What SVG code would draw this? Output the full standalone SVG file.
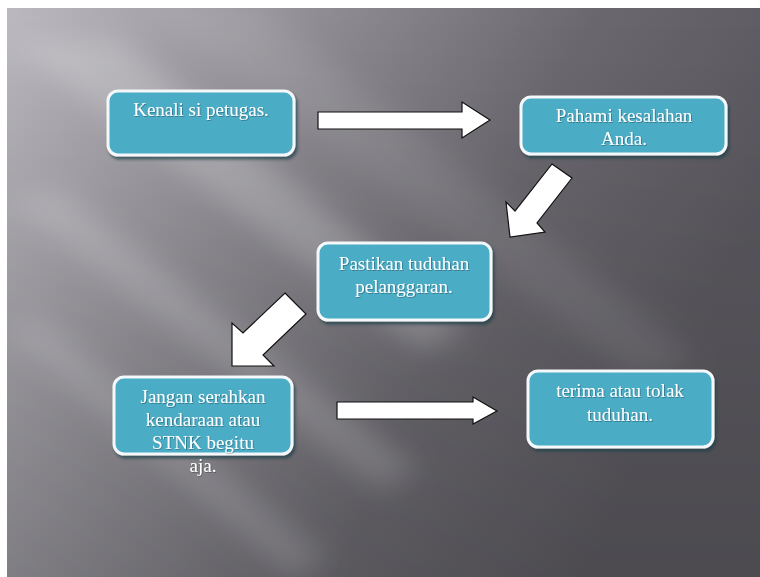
<svg xmlns="http://www.w3.org/2000/svg" width="760" height="577" viewBox="0 0 760 577">
<defs>
<linearGradient id="bg" x1="0" y1="0" x2="1" y2="0.35">
<stop offset="0" stop-color="#bbb9bf"/>
<stop offset="0.35" stop-color="#929096"/>
<stop offset="0.7" stop-color="#6a686e"/>
<stop offset="1" stop-color="#5a585e"/>
</linearGradient>
<linearGradient id="vshade" x1="0" y1="0" x2="0" y2="1">
<stop offset="0" stop-color="#000" stop-opacity="0"/>
<stop offset="1" stop-color="#000" stop-opacity="0.15"/>
</linearGradient>
<filter id="blur" x="-20%" y="-20%" width="140%" height="140%"><feGaussianBlur stdDeviation="14"/></filter>
<filter id="shadow" x="-10%" y="-10%" width="130%" height="140%">
<feDropShadow dx="2" dy="3" stdDeviation="1.5" flood-color="#1e3f48" flood-opacity="0.7"/>
</filter>
<filter id="tshadow"><feDropShadow dx="0.8" dy="0.8" stdDeviation="0.4" flood-color="#000" flood-opacity="0.35"/></filter>
</defs>
<style>
.box{fill:#4bacc6;stroke:#f4f8fa;stroke-width:3;filter:url(#shadow)}
.arrow{fill:#ffffff;stroke:#111;stroke-width:1.2;stroke-linejoin:miter}
.lbl{font-family:"Liberation Serif","Times New Roman",serif;font-size:19px;fill:#ffffff;text-anchor:middle;filter:url(#tshadow)}
</style>
<rect x="0" y="0" width="760" height="577" fill="#ffffff"/>
<g id="background">
<rect x="7" y="8" width="753" height="569" fill="url(#bg)"/>
<rect x="7" y="8" width="753" height="569" fill="url(#vshade)"/>
<g filter="url(#blur)" fill="#ffffff">
<polygon points="7,40 120,40 470,330 420,350" opacity="0.2"/>
<polygon points="7,200 60,190 420,470 380,490" opacity="0.16"/>
<polygon points="7,330 40,320 330,560 290,577" opacity="0.14"/>
<polygon points="150,8 260,8 700,360 640,380" opacity="0.08"/>
</g>
</g>
<g id="connectors">
<polygon class="arrow" points="318,112 462,112 462,102 490,120 462,138 462,129 318,129"/>
<polygon class="arrow" points="552,164 572,178 537,223 545,232 510,237 506,202 515,211"/>
<polygon class="arrow" points="285,293 306,314 263,355 274,366 232,366 232,323 243,333"/>
<polygon class="arrow" points="337,402 473,402 473,397 497,411 473,424 473,419 337,419"/>
</g>
<g id="n1">
<rect class="box" x="108" y="91" width="186" height="64" rx="10"/>
<text class="lbl" x="201" y="116">Kenali si petugas.</text>
</g>
<g id="n2">
<rect class="box" x="521" y="97" width="205" height="57" rx="10"/>
<text class="lbl" x="624" y="122">Pahami kesalahan</text>
<text class="lbl" x="624" y="145">Anda.</text>
</g>
<g id="n3">
<rect class="box" x="318" y="243" width="173" height="77" rx="10"/>
<text class="lbl" x="404" y="270">Pastikan tuduhan</text>
<text class="lbl" x="404" y="293">pelanggaran.</text>
</g>
<g id="n4">
<rect class="box" x="114" y="377" width="178" height="77" rx="10"/>
<text class="lbl" x="203" y="403">Jangan serahkan</text>
<text class="lbl" x="203" y="426">kendaraan atau</text>
<text class="lbl" x="203" y="449">STNK begitu</text>
<text class="lbl" x="203" y="472">aja.</text>
</g>
<g id="n5">
<rect class="box" x="528" y="371" width="185" height="76" rx="10"/>
<text class="lbl" x="620" y="397">terima atau tolak</text>
<text class="lbl" x="620" y="421">tuduhan.</text>
</g>
</svg>
